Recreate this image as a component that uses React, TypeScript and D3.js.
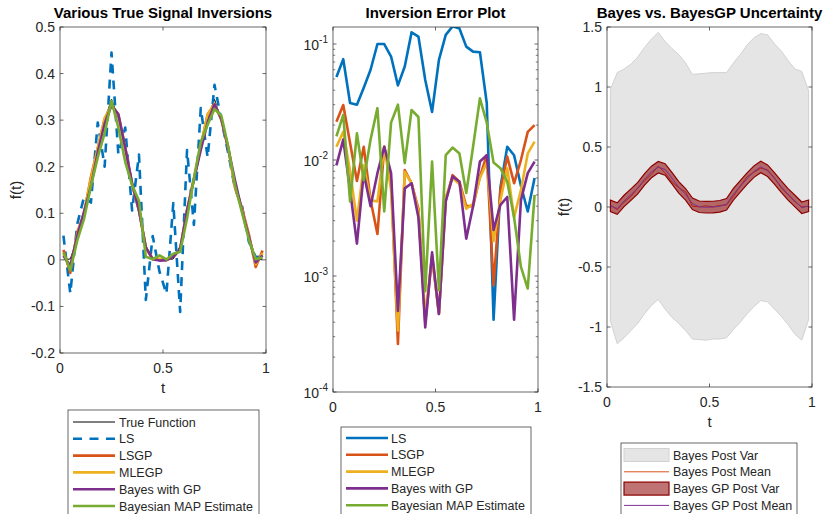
import React from "react";
import * as d3 from "d3";

// Sample locations on [0, 1]
const tGrid = [0.0167, 0.05, 0.0833, 0.1167, 0.15, 0.1833, 0.2167, 0.25, 0.2833, 0.3167, 0.35, 0.3833, 0.4167, 0.45, 0.4833, 0.5167, 0.55, 0.5833, 0.6167, 0.65, 0.6833, 0.7167, 0.75, 0.7833, 0.8167, 0.85, 0.8833, 0.9167, 0.95, 0.9833];

// Signal inversions f(t)
const trueSignal = [0.0, 0.002, 0.045, 0.105, 0.165, 0.235, 0.3, 0.345, 0.305, 0.24, 0.17, 0.1, 0.03, 0.002, 0.0, 0.0, 0.002, 0.03, 0.1, 0.17, 0.24, 0.305, 0.345, 0.3, 0.235, 0.165, 0.105, 0.045, 0.002, 0.0];
const lsEst = [0.052, -0.072, 0.076, 0.135, 0.123, 0.295, 0.2, 0.445, 0.227, 0.284, 0.106, 0.226, -0.086, 0.051, -0.026, -0.073, 0.122, -0.112, 0.236, 0.075, 0.326, 0.22, 0.376, 0.3, 0.229, 0.152, 0.116, 0.039, 0.006, 0.007];
const lsgpEst = [0.0214, -0.0278, 0.059, 0.0984, 0.178, 0.2395, 0.3023, 0.332, 0.3117, 0.2403, 0.1618, 0.1063, 0.0262, 0.0016, 0.0015, -0.0005, 0.0065, 0.0226, 0.1065, 0.174, 0.244, 0.3122, 0.334, 0.3008, 0.2405, 0.1543, 0.1113, 0.055, -0.0155, 0.02];
const mlegpEst = [0.013, -0.0155, 0.053, 0.102, 0.174, 0.2395, 0.3044, 0.332, 0.3105, 0.2403, 0.1621, 0.1063, 0.0264, 0.0016, 0.0015, -0.0005, 0.0068, 0.023, 0.1062, 0.1738, 0.2442, 0.312, 0.3355, 0.302, 0.2395, 0.1565, 0.1082, 0.0505, -0.0094, 0.0144];
const bayesGpEst = [0.009, -0.013, 0.0505, 0.1031, 0.1573, 0.231, 0.2923, 0.332, 0.3127, 0.2405, 0.1643, 0.1063, 0.0268, 0.0016, -0.0016, -0.0005, 0.0064, 0.0228, 0.1065, 0.1721, 0.236, 0.2953, 0.334, 0.3025, 0.2391, 0.1698, 0.1054, 0.0495, -0.0057, 0.0097];
const mapEst = [0.016, -0.0225, 0.0406, 0.088, 0.158, 0.22, 0.272, 0.3414, 0.284, 0.21, 0.1606, 0.127, 0.0065, 0.0013, 0.0097, 0.0008, 0.013, 0.0172, 0.0886, 0.175, 0.253, 0.29, 0.324, 0.3095, 0.2435, 0.1585, 0.1018, 0.0438, 0.0012, 0.005];

// Absolute inversion errors
const lsErr = [0.052, 0.074, 0.031, 0.03, 0.042, 0.06, 0.1, 0.1, 0.078, 0.044, 0.064, 0.126, 0.116, 0.049, 0.026, 0.073, 0.12, 0.142, 0.136, 0.095, 0.086, 0.085, 0.031, 0.00042, 0.0058, 0.013, 0.011, 0.006, 0.0036, 0.007];
const lsgpErr = [0.0214, 0.0298, 0.014, 0.0066, 0.013, 0.0045, 0.0023, 0.013, 0.0067, 0.00026, 0.0082, 0.0063, 0.0038, 0.0004, 0.00147, 0.00047, 0.0045, 0.0074, 0.0065, 0.004, 0.004, 0.0072, 0.011, 0.00083, 0.0055, 0.0107, 0.0063, 0.01, 0.0175, 0.02];
const mlegpErr = [0.013, 0.0175, 0.008, 0.003, 0.009, 0.0045, 0.0044, 0.013, 0.0055, 0.00034, 0.0079, 0.0063, 0.0036, 0.00045, 0.0015, 0.00048, 0.0048, 0.007, 0.0062, 0.0038, 0.0042, 0.007, 0.0095, 0.002, 0.0045, 0.0085, 0.0032, 0.0055, 0.0114, 0.0144];
const bayesGpErr = [0.009, 0.015, 0.0055, 0.0019, 0.0077, 0.004, 0.0077, 0.013, 0.0077, 0.0005, 0.0057, 0.0063, 0.0032, 0.00036, 0.0016, 0.00047, 0.0044, 0.0072, 0.0065, 0.0021, 0.004, 0.0097, 0.011, 0.0025, 0.0041, 0.0048, 0.00042, 0.0045, 0.0077, 0.0097];
const mapErr = [0.016, 0.0245, 0.0044, 0.017, 0.0067, 0.015, 0.028, 0.0036, 0.021, 0.03, 0.0094, 0.027, 0.0235, 0.00074, 0.0097, 0.00076, 0.011, 0.0128, 0.0114, 0.0052, 0.013, 0.034, 0.021, 0.0095, 0.0085, 0.0065, 0.0032, 0.0012, 0.00078, 0.005];

// Posterior uncertainty bands
const bayesVarUpper = [0.98, 1.12, 1.15, 1.19, 1.25, 1.33, 1.4, 1.455, 1.38, 1.32, 1.27, 1.2, 1.105, 1.11, 1.115, 1.12, 1.12, 1.12, 1.2, 1.27, 1.35, 1.41, 1.445, 1.435, 1.36, 1.3, 1.22, 1.15, 1.13, 0.97];
const bayesVarLower = [-0.95, -1.14, -1.09, -1.03, -0.97, -0.89, -0.82, -0.77, -0.85, -0.92, -0.97, -1.03, -1.1, -1.105, -1.11, -1.1, -1.1, -1.09, -1.02, -0.96, -0.89, -0.83, -0.78, -0.79, -0.85, -0.91, -0.98, -1.06, -1.11, -0.94];
const gpVarUpper = [0.057, 0.035, 0.098, 0.151, 0.205, 0.279, 0.34, 0.38, 0.361, 0.289, 0.212, 0.154, 0.075, 0.05, 0.047, 0.048, 0.054, 0.071, 0.155, 0.22, 0.284, 0.343, 0.382, 0.351, 0.287, 0.218, 0.153, 0.098, 0.042, 0.058];
const gpVarLower = [-0.039, -0.061, 0.003, 0.055, 0.109, 0.183, 0.244, 0.284, 0.265, 0.192, 0.116, 0.058, -0.021, -0.046, -0.05, -0.049, -0.042, -0.025, 0.058, 0.124, 0.188, 0.247, 0.286, 0.254, 0.191, 0.122, 0.057, 0.001, -0.054, -0.038];

// Axis ticks and labels
const tTicks = [0, 0.5, 1];
const fTicks = [-0.2, -0.1, 0, 0.1, 0.2, 0.3, 0.4, 0.5];
const errDecades = [1e-4, 1e-3, 1e-2, 1e-1];
const postTicks = [-1.5, -1, -0.5, 0, 0.5, 1, 1.5];

const titles = ["Various True Signal Inversions", "Inversion Error Plot", "Bayes vs. BayesGP Uncertainty"];
const signalNames = ["True Function", "LS", "LSGP", "MLEGP", "Bayes with GP", "Bayesian MAP Estimate"];
const errorNames = ["LS", "LSGP", "MLEGP", "Bayes with GP", "Bayesian MAP Estimate"];
const uncertaintyNames = ["Bayes Post Var", "Bayes Post Mean", "Bayes GP Post Var", "Bayes GP Post Mean"];

const C = {
  blue: "#0072BD",
  orange: "#D95319",
  yellow: "#EDB120",
  purple: "#7E2F8E",
  green: "#77AC30",
  ink: "#262626",
};
const FONT = "'Liberation Sans', Arial, Helvetica, sans-serif";
const LW = 2.6;

const fmt = (v: number) => String(+v.toFixed(2));

type Box = { x0: number; x1: number; y0: number; y1: number };

function Frame({ b }: { b: Box }) {
  return (
    <rect x={b.x0} y={b.y0} width={b.x1 - b.x0} height={b.y1 - b.y0} fill="none" stroke={C.ink} strokeWidth={0.7} />
  );
}

function XTicks({ b, x, ticks }: { b: Box; x: d3.ScaleLinear<number, number>; ticks: number[] }) {
  return (
    <g>
      {ticks.map((t) => (
        <g key={t}>
          <line x1={x(t)} x2={x(t)} y1={b.y1} y2={b.y1 - 3.5} stroke={C.ink} strokeWidth={0.7} />
          <line x1={x(t)} x2={x(t)} y1={b.y0} y2={b.y0 + 3.5} stroke={C.ink} strokeWidth={0.7} />
          <text x={x(t)} y={b.y1 + 20} textAnchor="middle" fontSize={14} fill={C.ink}>
            {fmt(t)}
          </text>
        </g>
      ))}
    </g>
  );
}

function YTicks({ b, y, ticks }: { b: Box; y: d3.ScaleLinear<number, number>; ticks: number[] }) {
  return (
    <g>
      {ticks.map((v) => (
        <g key={v}>
          <line x1={b.x0} x2={b.x0 + 3.5} y1={y(v)} y2={y(v)} stroke={C.ink} strokeWidth={0.7} />
          <line x1={b.x1} x2={b.x1 - 3.5} y1={y(v)} y2={y(v)} stroke={C.ink} strokeWidth={0.7} />
          <text x={b.x0 - 5} y={y(v) + 5} textAnchor="end" fontSize={14} fill={C.ink}>
            {fmt(v)}
          </text>
        </g>
      ))}
    </g>
  );
}

export default function App() {
  const bL: Box = { x0: 60, x1: 266, y0: 27, y1: 353 };
  const bM: Box = { x0: 333, x1: 538, y0: 27, y1: 392 };
  const bR: Box = { x0: 607, x1: 812, y0: 27, y1: 387 };

  const xL = d3.scaleLinear().domain([0, 1]).range([bL.x0, bL.x1]);
  const yL = d3.scaleLinear().domain([-0.2, 0.5]).range([bL.y1, bL.y0]);
  const xM = d3.scaleLinear().domain([0, 1]).range([bM.x0, bM.x1]);
  const yM = d3.scaleLog().domain([1e-4, 0.1402]).range([bM.y1, bM.y0]);
  const xR = d3.scaleLinear().domain([0, 1]).range([bR.x0, bR.x1]);
  const yR = d3.scaleLinear().domain([-1.5, 1.5]).range([bR.y1, bR.y0]);

  const lineOf = (x: any, y: any) => (vals: number[]) =>
    d3.line<number>().x((_, i) => x(tGrid[i])).y((d) => y(d))(vals) || "";
  const lineL = lineOf(xL, yL);
  const lineM = lineOf(xM, yM);
  const lineR = lineOf(xR, yR);
  const bandR = (lo: number[], hi: number[]) =>
    d3
      .area<number>()
      .x((_, i) => xR(tGrid[i]))
      .y0((_, i) => yR(lo[i]))
      .y1((_, i) => yR(hi[i]))(tGrid) || "";

  const leftSeries = [
    { vals: lsgpEst, color: C.orange },
    { vals: mlegpEst, color: C.yellow },
    { vals: bayesGpEst, color: C.purple },
    { vals: mapEst, color: C.green },
  ];
  const errSeries = [
    { vals: lsErr, color: C.blue },
    { vals: lsgpErr, color: C.orange },
    { vals: mlegpErr, color: C.yellow },
    { vals: bayesGpErr, color: C.purple },
    { vals: mapErr, color: C.green },
  ];

  const minorTicks = yM.ticks().filter((v) => {
    const e = Math.log10(v);
    return Math.abs(e - Math.round(e)) > 1e-6;
  });

  const rowH = 16.8;
  const errColors = [C.blue, C.orange, C.yellow, C.purple, C.green];
  const sigColors = ["#000000", C.blue, C.orange, C.yellow, C.purple, C.green];

  return (
    <svg
      width={825}
      height={514}
      viewBox="0 0 825 514"
      style={{ position: "absolute", left: 0, top: 0, background: "#fff" }}
      fontFamily={FONT}
    >
      <defs>
        <clipPath id="clipL">
          <rect x={bL.x0} y={bL.y0} width={bL.x1 - bL.x0} height={bL.y1 - bL.y0} />
        </clipPath>
        <clipPath id="clipM">
          <rect x={bM.x0} y={bM.y0} width={bM.x1 - bM.x0} height={bM.y1 - bM.y0} />
        </clipPath>
        <clipPath id="clipR">
          <rect x={bR.x0} y={bR.y0} width={bR.x1 - bR.x0} height={bR.y1 - bR.y0} />
        </clipPath>
      </defs>
      <rect x={0} y={0} width={825} height={514} fill="#fff" />

      {/* Left: signal inversions */}
      <g clipPath="url(#clipL)" fill="none" strokeLinejoin="round">
        <path d={lineL(trueSignal)} stroke="#000" strokeWidth={1} />
        <path d={lineL(lsEst)} stroke={C.blue} strokeWidth={LW} strokeDasharray="9 7" />
        {leftSeries.map((s, i) => (
          <path key={i} d={lineL(s.vals)} stroke={s.color} strokeWidth={LW} />
        ))}
      </g>
      <Frame b={bL} />
      <XTicks b={bL} x={xL} ticks={tTicks} />
      <YTicks b={bL} y={yL} ticks={fTicks} />
      <text x={(bL.x0 + bL.x1) / 2} y={18} textAnchor="middle" fontSize={15} fontWeight="bold" fill="#000">
        {titles[0]}
      </text>
      <text x={bL.x1 / 2 + bL.x0 / 2} y={bL.y1 + 40} textAnchor="middle" fontSize={15} fill={C.ink}>
        t
      </text>
      <text transform={`translate(21,${(bL.y0 + bL.y1) / 2}) rotate(-90)`} textAnchor="middle" fontSize={15} fill={C.ink}>
        f(t)
      </text>

      {/* Middle: inversion errors on a log scale */}
      <g clipPath="url(#clipM)" fill="none" strokeLinejoin="round">
        {errSeries.map((s, i) => (
          <path key={i} d={lineM(s.vals)} stroke={s.color} strokeWidth={LW} />
        ))}
      </g>
      <Frame b={bM} />
      <XTicks b={bM} x={xM} ticks={tTicks} />
      {errDecades.map((v) => (
        <g key={v}>
          <line x1={bM.x0} x2={bM.x0 + 3.5} y1={yM(v)} y2={yM(v)} stroke={C.ink} strokeWidth={0.7} />
          <line x1={bM.x1} x2={bM.x1 - 3.5} y1={yM(v)} y2={yM(v)} stroke={C.ink} strokeWidth={0.7} />
          <text x={bM.x0 - 5} y={yM(v) + 6} textAnchor="end" fontSize={14} fill={C.ink}>
            <tspan>10</tspan>
            <tspan dy={-7} fontSize={10}>
              {String(Math.round(Math.log10(v)))}
            </tspan>
          </text>
        </g>
      ))}
      {minorTicks.map((v) => (
        <g key={v}>
          <line x1={bM.x0} x2={bM.x0 + 2.2} y1={yM(v)} y2={yM(v)} stroke={C.ink} strokeWidth={0.6} />
          <line x1={bM.x1} x2={bM.x1 - 2.2} y1={yM(v)} y2={yM(v)} stroke={C.ink} strokeWidth={0.6} />
        </g>
      ))}
      <text x={(bM.x0 + bM.x1) / 2} y={18} textAnchor="middle" fontSize={15} fontWeight="bold" fill="#000">
        {titles[1]}
      </text>

      {/* Right: posterior uncertainty */}
      <g clipPath="url(#clipR)">
        <path d={bandR(bayesVarLower, bayesVarUpper)} fill="#e5e5e5" stroke="#d2d2d2" strokeWidth={1} />
        <path d={lineR(mapEst)} fill="none" stroke={C.orange} strokeWidth={1} />
        <path d={bandR(gpVarLower, gpVarUpper)} fill="rgb(139,0,0)" fillOpacity={0.55} stroke="#8B0000" strokeWidth={1.2} />
        <path d={lineR(bayesGpEst)} fill="none" stroke={C.purple} strokeWidth={1} />
      </g>
      <Frame b={bR} />
      <XTicks b={bR} x={xR} ticks={tTicks} />
      <YTicks b={bR} y={yR} ticks={postTicks} />
      <text x={(bR.x0 + bR.x1) / 2} y={18} textAnchor="middle" fontSize={15} fontWeight="bold" fill="#000">
        {titles[2]}
      </text>
      <text x={(bR.x0 + bR.x1) / 2} y={bR.y1 + 40} textAnchor="middle" fontSize={15} fill={C.ink}>
        t
      </text>
      <text transform={`translate(569,${(bR.y0 + bR.y1) / 2}) rotate(-90)`} textAnchor="middle" fontSize={15} fill={C.ink}>
        f(t)
      </text>

      {/* Legends */}
      <g fontSize={12.5} fill={C.ink}>
        <rect x={68} y={410} width={191} height={120} fill="#fff" stroke={C.ink} strokeWidth={0.7} />
        {signalNames.map((n, i) => {
          const y = 422 + i * rowH;
          return (
            <g key={n}>
              <line
                x1={73}
                x2={115}
                y1={y}
                y2={y}
                stroke={sigColors[i]}
                strokeWidth={i === 0 ? 1 : LW}
                strokeDasharray={i === 1 ? "9 7.5" : undefined}
              />
              <text x={119} y={y + 4.5}>
                {n}
              </text>
            </g>
          );
        })}

        <rect x={341} y={427} width={190} height={120} fill="#fff" stroke={C.ink} strokeWidth={0.7} />
        {errorNames.map((n, i) => {
          const y = 438 + i * rowH;
          return (
            <g key={n}>
              <line x1={346} x2={388} y1={y} y2={y} stroke={errColors[i]} strokeWidth={LW} />
              <text x={391} y={y + 4.5}>
                {n}
              </text>
            </g>
          );
        })}

        <rect x={621} y={443} width={176} height={120} fill="#fff" stroke={C.ink} strokeWidth={0.7} />
        {uncertaintyNames.map((n, i) => {
          const y = 455 + i * rowH;
          let mark;
          if (i === 0) mark = <rect x={624} y={y - 6.5} width={45} height={13} fill="#e5e5e5" stroke="#d2d2d2" strokeWidth={1} />;
          else if (i === 2)
            mark = <rect x={624} y={y - 6.5} width={45} height={13} fill="rgb(139,0,0)" fillOpacity={0.55} stroke="#8B0000" strokeWidth={1.2} />;
          else mark = <line x1={624} x2={669} y1={y} y2={y} stroke={i === 1 ? C.orange : C.purple} strokeWidth={1} />;
          return (
            <g key={n}>
              {mark}
              <text x={673} y={y + 4.5}>
                {n}
              </text>
            </g>
          );
        })}
      </g>
    </svg>
  );
}
